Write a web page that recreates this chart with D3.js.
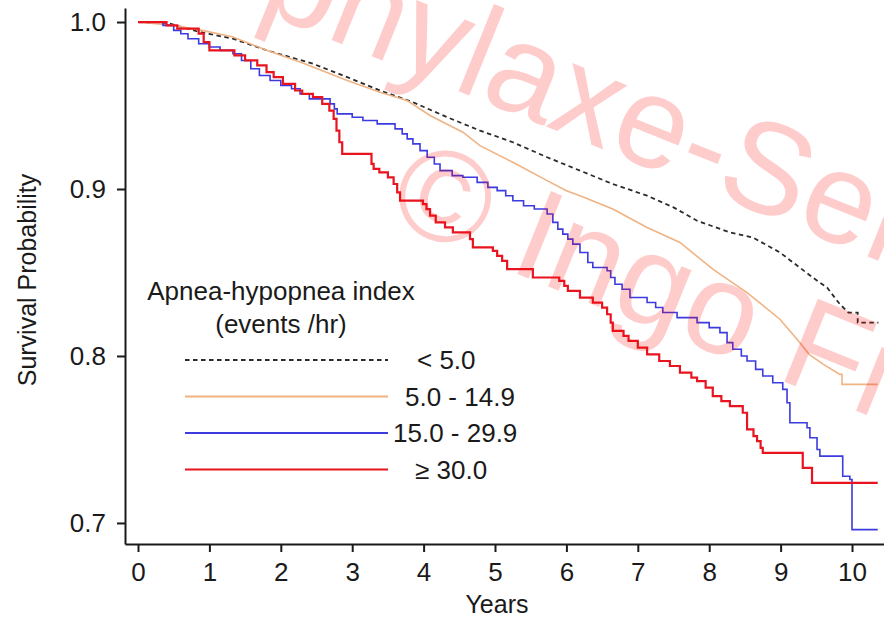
<!DOCTYPE html>
<html>
<head>
<meta charset="utf-8">
<script src="https://cdn.jsdelivr.net/npm/d3@7"></script>
<style>
body{margin:0;background:#fff}
svg{display:block}
text{font-family:"Liberation Sans",Arial,Helvetica,sans-serif;fill:#1a1a1a}
</style>
</head>
<body>
<svg id="chart" width="884" height="619"></svg>
<script>
// ---- data (years, survival probability) ----
const xTicks = [0,1,2,3,4,5,6,7,8,9,10];
const yTicks = [0.7,0.8,0.9,1.0];
const seriesNames = ["< 5.0","5.0 - 14.9","15.0 - 29.9","\u2265 30.0"];
const legendTitle = ["Apnea-hypopnea index","(events /hr)"];

const survLt5 = [[0,1.000],[0.45,0.999],[0.7,0.996],[0.87,0.994],[1.33,0.990],[1.81,0.983],[2.13,0.979],[2.45,0.975],[2.93,0.967],[3.39,0.959],[3.85,0.952],[4.33,0.943],[4.79,0.935],[5.25,0.928],[5.73,0.919],[6.19,0.911],[6.65,0.903],[7.13,0.896],[7.5,0.889],[7.83,0.881],[8.29,0.874],[8.61,0.871],[8.99,0.862],[9.45,0.847],[9.65,0.841],[9.83,0.831],[9.95,0.826],[10.08,0.826],[10.08,0.820],[10.37,0.820]];

const surv5to15 = [[0,1.000],[0.5,0.998],[0.9,0.995],[1.33,0.991],[1.81,0.983],[2.27,0.976],[2.45,0.973],[2.93,0.965],[3.39,0.958],[3.77,0.953],[4.09,0.944],[4.55,0.934],[4.79,0.926],[5.25,0.916],[5.73,0.905],[6.0,0.899],[6.19,0.896],[6.65,0.888],[7.13,0.877],[7.59,0.868],[8.05,0.852],[8.53,0.838],[8.99,0.822],[9.23,0.810],[9.4,0.801],[9.6,0.795],[9.83,0.789],[9.86,0.789],[9.86,0.783],[10.36,0.783]];

const surv15to30 = [[0,1.000],[0.35,0.998],[0.5,0.995],[0.6,0.993],[0.7,0.990],[0.85,0.987],[1.0,0.985],[1.15,0.983],[1.33,0.981],[1.45,0.977],[1.58,0.972],[1.7,0.968],[1.85,0.965],[2.0,0.962],[2.15,0.960],[2.27,0.957],[2.4,0.954],[2.69,0.951],[2.75,0.948],[2.79,0.945],[3.0,0.943],[3.15,0.941],[3.35,0.939],[3.6,0.936],[3.7,0.933],[3.77,0.930],[3.85,0.927],[3.95,0.923],[4.05,0.919],[4.15,0.915],[4.23,0.911],[4.4,0.908],[4.55,0.907],[4.75,0.904],[4.9,0.901],[5.03,0.899],[5.15,0.896],[5.25,0.893],[5.4,0.890],[5.55,0.888],[5.73,0.885],[5.81,0.880],[5.88,0.876],[5.95,0.873],[6.02,0.870],[6.09,0.867],[6.19,0.862],[6.3,0.856],[6.37,0.853],[6.57,0.851],[6.62,0.847],[6.68,0.843],[6.78,0.840],[6.89,0.835],[7.13,0.832],[7.25,0.829],[7.35,0.826],[7.55,0.823],[7.83,0.820],[8.0,0.817],[8.15,0.814],[8.25,0.808],[8.33,0.804],[8.45,0.800],[8.53,0.797],[8.65,0.792],[8.75,0.788],[8.89,0.784],[9.03,0.780],[9.09,0.772],[9.13,0.760],[9.37,0.757],[9.41,0.751],[9.51,0.744],[9.55,0.740],[9.87,0.728],[9.97,0.726],[10.0,0.696],[10.36,0.696]];

const survGe30 = [[0,1.000],[0.40,0.998],[0.55,0.996],[0.85,0.993],[0.92,0.988],[1.0,0.983],[1.35,0.980],[1.5,0.977],[1.67,0.974],[1.8,0.970],[1.9,0.967],[2.03,0.963],[2.2,0.959],[2.3,0.957],[2.45,0.955],[2.58,0.951],[2.68,0.947],[2.74,0.942],[2.78,0.935],[2.82,0.928],[2.86,0.921],[3.27,0.915],[3.3,0.912],[3.38,0.910],[3.5,0.907],[3.58,0.903],[3.63,0.898],[3.67,0.893],[3.99,0.891],[4.04,0.888],[4.09,0.884],[4.17,0.880],[4.3,0.877],[4.41,0.874],[4.65,0.870],[4.69,0.865],[4.97,0.863],[5.03,0.860],[5.1,0.857],[5.17,0.852],[5.53,0.847],[5.9,0.845],[5.97,0.842],[6.02,0.839],[6.19,0.835],[6.37,0.832],[6.5,0.829],[6.57,0.825],[6.62,0.820],[6.65,0.815],[6.8,0.812],[6.87,0.809],[7.0,0.805],[7.13,0.801],[7.3,0.797],[7.45,0.794],[7.59,0.790],[7.75,0.787],[7.83,0.785],[7.95,0.781],[8.05,0.776],[8.17,0.773],[8.29,0.770],[8.47,0.766],[8.53,0.756],[8.62,0.752],[8.67,0.749],[8.72,0.745],[8.75,0.742],[9.31,0.733],[9.44,0.724],[10.36,0.724]];

const watermarkLines = ["prophylaxe-Server","\u00a9 Ingo Fietze"];

// ---- drawing ----
const svg = d3.select("#chart");
const x = d3.scaleLinear().domain([-0.182, 10.448]).range([125, 884]);
const y = d3.scaleLinear().domain([0.6874, 1.0084]).range([544, 8]);

const series = [
  {name: seriesNames[0], data: survLt5,   color: "#2b2b2b", width: 1.8, dash: "4.5,3.5", curve: d3.curveLinear},
  {name: seriesNames[1], data: surv5to15, color: "#efb384", width: 1.6, dash: null, curve: d3.curveLinear},
  {name: seriesNames[2], data: surv15to30,color: "#3b3be0", width: 1.6, dash: null, curve: d3.curveStepAfter},
  {name: seriesNames[3], data: survGe30,  color: "#e8141f", width: 2.2, dash: null, curve: d3.curveStepAfter}
];

// curves
series.forEach(s => {
  const line = d3.line().x(d => x(d[0])).y(d => y(d[1])).curve(s.curve);
  svg.append("path").datum(s.data)
    .attr("d", line).attr("fill","none")
    .attr("stroke", s.color).attr("stroke-width", s.width)
    .attr("stroke-dasharray", s.dash);
});

// axes
const xAxis = svg.append("g").attr("transform","translate(0,544)")
  .call(d3.axisBottom(x).tickValues(xTicks).tickFormat(d3.format("d")).tickSize(8).tickSizeOuter(0).tickPadding(11));
const yAxis = svg.append("g").attr("transform","translate(125,0)")
  .call(d3.axisLeft(y).tickValues(yTicks).tickFormat(d3.format(".1f")).tickSize(8).tickSizeOuter(0).tickPadding(11));
[xAxis, yAxis].forEach(g => {
  g.selectAll("path,line").attr("stroke","#1a1a1a").attr("stroke-width",2);
  g.selectAll("text").attr("font-size",26).attr("fill","#1a1a1a")
    .style("font-family",'"Liberation Sans",Arial,sans-serif');
});

svg.append("text").attr("x",497).attr("y",613).attr("text-anchor","middle")
  .attr("font-size",25).text("Years");
svg.append("text").attr("transform","translate(36,280) rotate(-90)")
  .attr("text-anchor","middle").attr("font-size",25).text("Survival Probability");

// legend
svg.append("text").attr("x",281).attr("y",300).attr("text-anchor","middle")
  .attr("font-size",26).text(legendTitle[0]);
svg.append("text").attr("x",281).attr("y",333).attr("text-anchor","middle")
  .attr("font-size",26).text(legendTitle[1]);
const legY = d3.scalePoint().domain(seriesNames).range([360,469.5]);
const labelX = [417,405,393,415];
series.forEach((s,i) => {
  svg.append("line").attr("x1",185).attr("x2",388)
    .attr("y1",legY(s.name)).attr("y2",legY(s.name))
    .attr("stroke", s.color).attr("stroke-width", s.width === 2.2 ? 2.2 : 1.8)
    .attr("stroke-dasharray", s.dash);
  svg.append("text").attr("x",labelX[i]).attr("y",legY(s.name)).attr("dy","0.36em")
    .attr("font-size",26).text(s.name);
});

// watermark
const wm = svg.append("g").attr("pointer-events","none");
wm.append("text").attr("transform","translate(82,-61) rotate(22)")
  .attr("font-size",130).style("fill","#ff0000").attr("fill-opacity",0.2).text(watermarkLines[0]);
wm.append("text").attr("transform","translate(384,220) rotate(22)")
  .attr("font-size",130).style("fill","#ff0000").attr("fill-opacity",0.2).text(watermarkLines[1]);
</script>
</body>
</html>
